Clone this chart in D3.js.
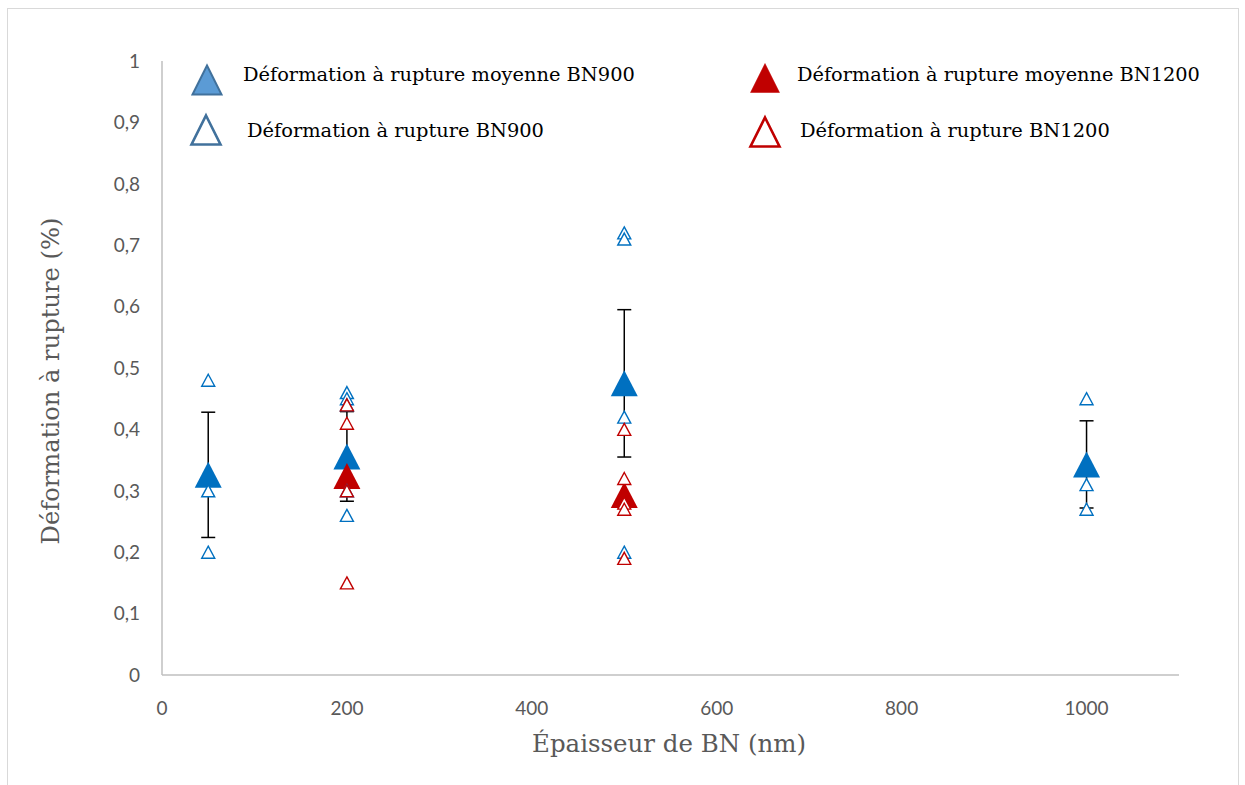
<!DOCTYPE html>
<html><head><meta charset="utf-8">
<script src="https://cdn.jsdelivr.net/npm/d3@7"></script>
<style>body{margin:0;background:#fff}svg{display:block}</style>
</head><body>
<svg id="c" width="1245" height="785"></svg>
<script>
// ---- data ----
const thickness900 = [50, 200, 500, 1000];
const meanBN900 = [0.326, 0.356, 0.475, 0.343];
const sdBN900 = [0.102, 0.073, 0.120, 0.071];
const thickness1200 = [200, 500];
const meanBN1200 = [0.324, 0.293];
const indivBN900X = [50, 50, 50, 200, 200, 200, 200, 200, 500, 500, 500, 500, 1000, 1000, 1000];
const indivBN900Y = [0.48, 0.30, 0.20, 0.46, 0.45, 0.44, 0.30, 0.26, 0.72, 0.71, 0.42, 0.20, 0.45, 0.31, 0.27];
const indivBN1200X = [200, 200, 200, 200, 500, 500, 500, 500, 500];
const indivBN1200Y = [0.44, 0.41, 0.30, 0.15, 0.40, 0.32, 0.28, 0.27, 0.19];
const xTicks = [0, 200, 400, 600, 800, 1000];
const yTicks = [0, 0.1, 0.2, 0.3, 0.4, 0.5, 0.6, 0.7, 0.8, 0.9, 1];
const legendLabels = ["Déformation à rupture moyenne BN900", "Déformation à rupture BN900",
                      "Déformation à rupture moyenne BN1200", "Déformation à rupture BN1200"];
const xTitle = "Épaisseur de BN (nm)";
const yTitle = "Déformation à rupture (%)";

// ---- layout ----
const svg = d3.select("#c");
const BLUE = "#0070C0", RED = "#C00000", GREY = "#595959";
const x = d3.scaleLinear().domain([0, 1100]).range([162, 1179]);
const y = d3.scaleLinear().domain([0, 1]).range([675, 61]);

function tri(w, h) {
  return `M0,${-h/2}L${w/2},${h/2}L${-w/2},${h/2}Z`;
}
function fit(sel, target) {
  const n = sel.node();
  const fs = parseFloat(sel.attr("font-size"));
  const len = n.getComputedTextLength();
  sel.attr("font-size", (fs * target / len).toFixed(2));
}

// chart border
svg.append("rect").attr("x", 7.5).attr("y", 8.5).attr("width", 1231).attr("height", 790)
  .attr("fill", "none").attr("stroke", "#D9D9D9").attr("stroke-width", 1);

// axes lines
svg.append("line").attr("x1", x(0)).attr("x2", x(1100)).attr("y1", y(0)).attr("y2", y(0))
  .attr("stroke", "#BFBFBF").attr("stroke-width", 1.5);
svg.append("line").attr("x1", x(0)).attr("x2", x(0)).attr("y1", y(0)).attr("y2", y(1))
  .attr("stroke", "#BFBFBF").attr("stroke-width", 1.5);

// tick labels
const fmt = v => (v === 0 ? "0" : v === 1 ? "1" : d3.format(".1f")(v).replace(".", ","));
svg.append("g").selectAll("text").data(yTicks).join("text")
  .attr("x", 140).attr("y", d => y(d)).attr("dy", "0.36em")
  .attr("text-anchor", "end").attr("font-family", "Lato, 'DejaVu Sans', sans-serif")
  .attr("font-size", 19).attr("fill", GREY).text(fmt);
svg.append("g").selectAll("text").data(xTicks).join("text")
  .attr("x", d => x(d)).attr("y", 708).attr("dy", "0.36em")
  .attr("text-anchor", "middle").attr("font-family", "Lato, 'DejaVu Sans', sans-serif")
  .attr("font-size", 19).attr("fill", GREY).text(d => d);

// axis titles
const xt = svg.append("text").attr("x", 669).attr("y", 752).attr("text-anchor", "middle")
  .attr("font-family", "'DejaVu Serif', serif").attr("font-size", 22).attr("fill", GREY).text(xTitle);
fit(xt, 274);
const yt = svg.append("text").attr("transform", "translate(59,381) rotate(-90)").attr("text-anchor", "middle")
  .attr("font-family", "'DejaVu Serif', serif").attr("font-size", 22).attr("fill", GREY).text(yTitle);
fit(yt, 327);

// error bars (BN900)
const eb = svg.append("g").attr("stroke", "#000").attr("stroke-width", 1.5);
thickness900.forEach((t, i) => {
  const lo = meanBN900[i] - sdBN900[i], hi = meanBN900[i] + sdBN900[i];
  eb.append("line").attr("x1", x(t)).attr("x2", x(t)).attr("y1", y(lo)).attr("y2", y(hi));
  eb.append("line").attr("x1", x(t) - 7).attr("x2", x(t) + 7).attr("y1", y(lo)).attr("y2", y(lo));
  eb.append("line").attr("x1", x(t) - 7).attr("x2", x(t) + 7).attr("y1", y(hi)).attr("y2", y(hi));
});

// mean markers
svg.append("g").selectAll("path").data(thickness900).join("path")
  .attr("transform", (d, i) => `translate(${x(d)},${y(meanBN900[i])})`)
  .attr("d", tri(27, 26)).attr("fill", BLUE);
svg.append("g").selectAll("path").data(thickness1200).join("path")
  .attr("transform", (d, i) => `translate(${x(d)},${y(meanBN1200[i])})`)
  .attr("d", tri(27, 26)).attr("fill", RED);

// individual markers
svg.append("g").selectAll("path").data(indivBN900X).join("path")
  .attr("transform", (d, i) => `translate(${x(d)},${y(indivBN900Y[i])})`)
  .attr("d", tri(13, 12)).attr("fill", "#fff").attr("stroke", BLUE).attr("stroke-width", 1.4);
svg.append("g").selectAll("path").data(indivBN1200X).join("path")
  .attr("transform", (d, i) => `translate(${x(d)},${y(indivBN1200Y[i])})`)
  .attr("d", tri(13, 12)).attr("fill", "#fff").attr("stroke", RED).attr("stroke-width", 1.4);

// legend
const leg = [
  {mx: 207, my: 80, tx: 243, ty: 81, w: 392, fill: "#5B9BD5", stroke: "#41719C", sw: 2},
  {mx: 206, my: 130, tx: 247, ty: 137, w: 297, fill: "#fff", stroke: "#41719C", sw: 2.6},
  {mx: 765, my: 78, tx: 797, ty: 81, w: 403, fill: RED, stroke: RED, sw: 0.5},
  {mx: 765, my: 132, tx: 800, ty: 137, w: 310, fill: "#fff", stroke: RED, sw: 2.6}
];
leg.forEach((l, i) => {
  svg.append("path").attr("transform", `translate(${l.mx},${l.my})`).attr("d", tri(29, 29))
    .attr("fill", l.fill).attr("stroke", l.stroke).attr("stroke-width", l.sw);
  const t = svg.append("text").attr("x", l.tx).attr("y", l.ty)
    .attr("font-family", "'DejaVu Serif', serif").attr("font-size", 17).attr("fill", "#000")
    .text(legendLabels[i]);
  fit(t, l.w);
});
</script>
</body></html>
